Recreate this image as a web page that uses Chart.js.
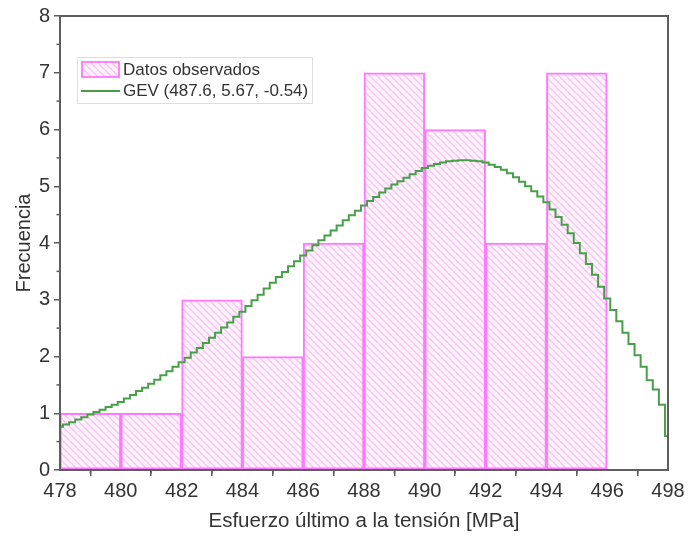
<!DOCTYPE html>
<html><head><meta charset="utf-8">
<script src="https://cdn.jsdelivr.net/npm/chart.js@4.4.1/dist/chart.umd.min.js"></script>
<style>html,body{margin:0;padding:0;background:#fff}#wrap{width:698px;height:536px}</style>
</head><body><div id="wrap"><canvas id="c" width="698" height="536"></canvas></div>
<script>
// Histogram bins (centres) and observed counts
const binCenters = [479, 481, 483, 485, 487, 489, 491, 493, 495];
const counts = [1, 1, 3, 2, 4, 7, 6, 4, 7];
// GEV fitted curve
const curveX = [478.0,478.2,478.4,478.6,478.8,479.0,479.2,479.4,479.6,479.8,
480.0,480.2,480.4,480.6,480.8,481.0,481.2,481.4,481.6,481.8,
482.0,482.2,482.4,482.6,482.8,483.0,483.2,483.4,483.6,483.8,
484.0,484.2,484.4,484.6,484.8,485.0,485.2,485.4,485.6,485.8,
486.0,486.2,486.4,486.6,486.8,487.0,487.2,487.4,487.6,487.8,
488.0,488.2,488.4,488.6,488.8,489.0,489.2,489.4,489.6,489.8,
490.0,490.2,490.4,490.6,490.8,491.0,491.2,491.4,491.6,491.8,
492.0,492.2,492.4,492.6,492.8,493.0,493.2,493.4,493.6,493.8,
494.0,494.2,494.4,494.6,494.8,495.0,495.2,495.4,495.6,495.8,
496.0,496.2,496.4,496.6,496.8,497.0,497.2,497.4,497.6,497.8,498.0];
const curveY = [0.76,0.80,0.84,0.89,0.93,0.98,1.02,1.06,1.11,1.15,
1.20,1.26,1.32,1.39,1.45,1.52,1.59,1.67,1.74,1.82,
1.90,1.98,2.07,2.15,2.24,2.33,2.42,2.51,2.60,2.70,
2.79,2.89,2.99,3.09,3.20,3.30,3.40,3.49,3.59,3.68,
3.78,3.87,3.96,4.05,4.13,4.22,4.31,4.40,4.49,4.57,
4.66,4.74,4.81,4.89,4.96,5.03,5.09,5.15,5.21,5.27,
5.32,5.36,5.39,5.42,5.44,5.45,5.46,5.46,5.45,5.44,
5.42,5.38,5.34,5.29,5.23,5.16,5.08,5.00,4.91,4.82,
4.72,4.59,4.46,4.32,4.17,4.00,3.82,3.63,3.44,3.23,
3.02,2.82,2.62,2.42,2.22,2.02,1.82,1.58,1.42,1.15,0.60];
const xTicks = [478,480,482,484,486,488,490,492,494,496,498];
const yTicks = [0,1,2,3,4,5,6,7,8];
const seriesNames = ['Datos observados', 'GEV (487.6, 5.67, -0.54)'];

function makeHatch(){
  const s = 7;
  const c = document.createElement('canvas'); c.width = s; c.height = s;
  const g = c.getContext('2d');
  g.fillStyle = '#fef3fd'; g.fillRect(0,0,s,s);
  g.strokeStyle = '#f7c2f4'; g.lineWidth = 1.4;
  for (let k=-1;k<=1;k++){ g.beginPath(); g.moveTo(k*s,0); g.lineTo(k*s+s,s); g.stroke(); }
  return g.createPattern(c,'repeat');
}
const hatch = makeHatch();
const axisColor = '#5e5e5e';
const textColor = '#333';
const barBorder = '#ff78ff';
const lineColor = '#47a047';
const FONT = '"Liberation Sans", Arial, sans-serif';

const extras = {
  id:'extras',
  afterDraw(chart){
    const ctx = chart.ctx, a = chart.chartArea, xs = chart.scales.x, ys = chart.scales.y;
    ctx.save();
    ctx.strokeStyle = axisColor; ctx.lineWidth = 2;
    ctx.strokeRect(a.left, a.top, a.right-a.left, a.bottom-a.top);
    ctx.lineWidth = 1.5;
    for (let v=0.5; v<8; v+=1){ const y = ys.getPixelForValue(v); ctx.beginPath(); ctx.moveTo(a.left-3.5,y); ctx.lineTo(a.left,y); ctx.stroke(); }
    for (let v=479; v<498; v+=2){ const x = xs.getPixelForValue(v); ctx.beginPath(); ctx.moveTo(x,a.bottom); ctx.lineTo(x,a.bottom+3.5); ctx.stroke(); }
    // legend
    const lx = 77, ly = 57, lw = 235, lh = 46;
    ctx.fillStyle = '#fff'; ctx.fillRect(lx,ly,lw,lh);
    ctx.strokeStyle = '#dedede'; ctx.lineWidth = 1; ctx.strokeRect(lx+0.5,ly+0.5,lw,lh);
    ctx.fillStyle = hatch; ctx.fillRect(82,62,37,15);
    ctx.strokeStyle = barBorder; ctx.lineWidth = 1.8; ctx.strokeRect(82,62,37,15);
    ctx.strokeStyle = lineColor; ctx.lineWidth = 2; ctx.beginPath(); ctx.moveTo(81,91); ctx.lineTo(120,91); ctx.stroke();
    ctx.fillStyle = textColor; ctx.font = '17px ' + FONT; ctx.textBaseline = 'middle';
    ctx.fillText(seriesNames[0], 123, 70);
    ctx.fillText(seriesNames[1], 123, 91);
    ctx.restore();
  }
};

new Chart(document.getElementById('c'), {
  type:'bar',
  data:{
    datasets:[
      { type:'line', label:seriesNames[1], data: curveX.map((x,i)=>({x:x, y:curveY[i]})), borderColor:lineColor, borderWidth:2, pointRadius:0, stepped:'middle', fill:false, order:0 },
      { type:'bar', label:seriesNames[0], data: binCenters.map((x,i)=>({x:x, y:counts[i]})), backgroundColor:hatch, borderColor:barBorder, borderWidth:2, borderSkipped:false, barPercentage:1, categoryPercentage:1, order:1 }
    ]
  },
  options:{
    responsive:false, animation:false, devicePixelRatio:1,
    layout:{ padding:{ left:12, right:30, top:16, bottom:2 } },
    plugins:{ legend:{display:false}, tooltip:{enabled:false} },
    scales:{
      x:{ type:'linear', min:478, max:498, offset:false,
        afterBuildTicks(s){ s.ticks = xTicks.map(v=>({value:v})); },
        afterFit(s){ s.height = 64; },
        ticks:{ color:textColor, font:{ size:20, family:FONT }, padding:3, maxRotation:0, autoSkip:false },
        grid:{ display:true, drawOnChartArea:false, drawTicks:true, tickLength:6, color:axisColor, lineWidth:1.5 },
        border:{ display:true, color:axisColor, width:2 },
        title:{ display:true, text:'Esfuerzo último a la tensión [MPa]', color:textColor, font:{ size:20.5, family:FONT }, padding:{top:0,bottom:0} }
      },
      y:{ min:0, max:8,
        afterBuildTicks(s){ s.ticks = yTicks.map(v=>({value:v})); },
        afterFit(s){ s.width = 48; },
        ticks:{ color:textColor, font:{ size:20, family:FONT }, padding:4 },
        grid:{ display:true, drawOnChartArea:false, drawTicks:true, tickLength:6, color:axisColor, lineWidth:1.5 },
        border:{ display:true, color:axisColor, width:2 },
        title:{ display:true, text:'Frecuencia', color:textColor, font:{ size:20, family:FONT }, padding:{top:0,bottom:0} }
      }
    }
  },
  plugins:[extras]
});
</script></body></html>
